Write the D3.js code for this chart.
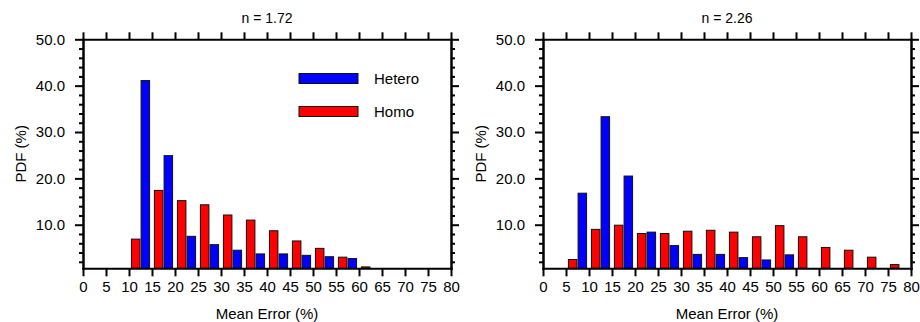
<!DOCTYPE html>
<html>
<head>
<meta charset="utf-8">
<script src="https://cdn.jsdelivr.net/npm/d3@7"></script>
<style>
  body { margin: 0; background: #fff; }
  svg { display: block; font-family: "Liberation Sans", Arial, Helvetica, sans-serif; }
</style>
</head>
<body>
<svg id="chart" width="920" height="322"></svg>
<script>
// bin centres of the mean error histogram (%)
var binCentres = [2.5, 7.5, 12.5, 17.5, 22.5, 27.5, 32.5, 37.5, 42.5, 47.5, 52.5, 57.5, 62.5, 67.5, 72.5, 77.5];

// n = 1.72
var hetero172 = [0, 0, 41.1, 24.9, 7.5, 5.7, 4.5, 3.7, 3.7, 3.4, 3.1, 2.7, 0, 0, 0, 0];
var homo172   = [0, 0, 6.9, 17.4, 15.2, 14.3, 12.1, 11.0, 8.7, 6.5, 4.9, 3.0, 0.9, 0, 0, 0];

// n = 2.26
var hetero226 = [0, 16.8, 33.3, 20.5, 8.4, 5.5, 3.6, 3.6, 2.9, 2.4, 3.5, 0, 0, 0, 0, 0];
var homo226   = [0, 2.5, 9.0, 9.9, 8.1, 8.1, 8.6, 8.8, 8.4, 7.4, 9.8, 7.4, 5.1, 4.5, 3.0, 1.4];

var xTicks = d3.range(0, 81, 5);
var yMajor = [10, 20, 30, 40, 50];
var yMinor = d3.range(2, 50, 2).filter(function(v) { return v % 10 !== 0; });

var panels = [
  { title: "n = 1.72", hetero: hetero172, homo: homo172, legend: true, left: 83 },
  { title: "n = 2.26", hetero: hetero226, homo: homo226, legend: false, left: 543 }
];

var svg = d3.select("#chart"),
    plotW = 368,
    plotTop = 39.3,
    plotBottom = 268.3,
    yMin = 0.6,
    barW = 1.85,
    barOff = 1.05;

var colours = { hetero: "#0000ff", homo: "#ff0000" };

panels.forEach(function(p) {
  var g = svg.append("g").attr("transform", "translate(" + p.left + ",0)");

  var x = d3.scaleLinear().domain([0, 80]).range([0, plotW]);
  var y = d3.scaleLinear().domain([yMin, 50]).range([plotBottom, plotTop]);

  //Bars: homo on the left of each bin, hetero on the right
  var rows = binCentres.map(function(c, i) {
    return { c: c, homo: p.homo[i], hetero: p.hetero[i] };
  });
  [["homo", -barOff], ["hetero", barOff]].forEach(function(s) {
    g.selectAll("rect." + s[0])
      .data(rows.filter(function(d) { return d[s[0]] > 0; }))
      .enter()
      .append("rect")
      .attr("class", s[0])
      .attr("x", function(d) { return x(d.c + s[1] - barW / 2); })
      .attr("width", x(barW) - x(0))
      .attr("y", function(d) { return y(d[s[0]]); })
      .attr("height", function(d) { return y(yMin) - y(d[s[0]]); })
      .attr("fill", colours[s[0]])
      .attr("stroke", "#111")
      .attr("stroke-width", 1);
  });

  //Axes with outward ticks on all four sides
  function style(sel) {
    sel.selectAll("path.domain").attr("stroke-width", 2).attr("stroke-linecap", "square");
    sel.selectAll(".tick line").attr("stroke-width", 2);
    sel.selectAll("text")
      .style("font-size", "15px")
      .style("font-family", "'Liberation Sans', Arial, sans-serif")
      .attr("fill", "#000");
  }

  g.append("g")
    .attr("transform", "translate(0," + plotBottom + ")")
    .call(d3.axisBottom(x).tickValues(xTicks).tickSize(8).tickSizeOuter(0).tickPadding(5).tickFormat(d3.format("d")))
    .call(style);
  g.append("g")
    .attr("transform", "translate(0," + plotTop + ")")
    .call(d3.axisTop(x).tickValues(xTicks).tickSize(7).tickSizeOuter(0).tickFormat(""))
    .call(style);

  g.append("g")
    .call(d3.axisLeft(y).tickValues(yMajor).tickSize(8).tickSizeOuter(0).tickPadding(10).tickFormat(d3.format(".1f")))
    .call(style);
  g.append("g")
    .call(d3.axisLeft(y).tickValues(yMinor).tickSize(4).tickSizeOuter(0).tickFormat(""))
    .call(style);
  g.append("g")
    .attr("transform", "translate(" + plotW + ",0)")
    .call(d3.axisRight(y).tickValues(yMajor).tickSize(8).tickSizeOuter(0).tickFormat(""))
    .call(style);
  g.append("g")
    .attr("transform", "translate(" + plotW + ",0)")
    .call(d3.axisRight(y).tickValues(yMinor).tickSize(4).tickSizeOuter(0).tickFormat(""))
    .call(style);

  //Titles
  g.append("text")
    .attr("x", plotW / 2)
    .attr("y", 22.5)
    .attr("text-anchor", "middle")
    .style("font-size", "14px")
    .text(p.title);
  g.append("text")
    .attr("x", plotW / 2)
    .attr("y", 318.5)
    .attr("text-anchor", "middle")
    .style("font-size", "15px")
    .text("Mean Error (%)");
  g.append("text")
    .attr("transform", "translate(" + (-57) + "," + ((plotTop + plotBottom) / 2) + ") rotate(-90)")
    .attr("text-anchor", "middle")
    .style("font-size", "15px")
    .text("PDF (%)");

  //Legend
  if (p.legend) {
    var items = [["Hetero", colours.hetero, 73.5], ["Homo", colours.homo, 106.5]];
    items.forEach(function(it) {
      g.append("rect")
        .attr("x", 216)
        .attr("y", it[2])
        .attr("width", 59)
        .attr("height", 10)
        .attr("fill", it[1])
        .attr("stroke", "#111")
        .attr("stroke-width", 1);
      g.append("text")
        .attr("x", 291)
        .attr("y", it[2] + 10.5)
        .style("font-size", "15px")
        .text(it[0]);
    });
  }
});
</script>
</body>
</html>
